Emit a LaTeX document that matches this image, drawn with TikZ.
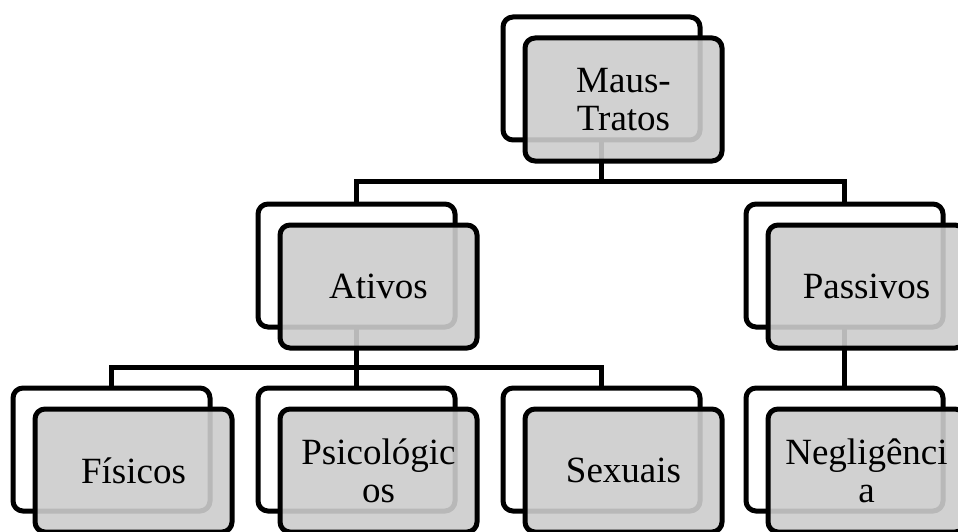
\documentclass[tikz,border=0pt]{standalone}
\usepackage{fontspec}
\setmainfont{Liberation Serif}
\pgfdeclarelayer{bg}
\pgfsetlayers{bg,main}
\begin{document}
\begin{tikzpicture}[x=1pt,y=-1pt,
  back/.style={draw=black, fill=white, line width=5pt, rounded corners=10pt,
    minimum width=197pt, minimum height=123pt, anchor=north west,
    inner sep=0pt, outer sep=0pt},
  front/.style={draw=black, fill=black!20, fill opacity=0.9, draw opacity=1,
    text opacity=1, line width=5pt, rounded corners=10pt,
    minimum width=197pt, minimum height=123pt, anchor=north west,
    inner sep=0pt, outer sep=0pt, align=center,
    font=\fontsize{37}{38}\selectfont},
  conn/.style={line width=5pt}
]
\useasboundingbox (0,0) rectangle (958,532);
\clip (0,0) rectangle (958,532);
% back frames
\node[back] (mtB) at (503,17) {};
\node[back] (atB) at (258,204) {};
\node[back] (paB) at (746,204) {};
\node[back] (fiB) at (13,388) {};
\node[back] (psB) at (258,388) {};
\node[back] (sxB) at (503,388) {};
\node[back] (neB) at (746,388) {};
% front boxes
\node[front] (mtF) at (525,38) {Maus-\\Tratos};
\node[front] (atF) at (280,225) {Ativos};
\node[front] (paF) at (768,225) {Passivos};
\node[front] (fiF) at (35,409) {Físicos};
\node[front] (psF) at (280,409) {Psicológic\\os};
\node[front] (sxF) at (525,409) {Sexuais};
\node[front] (neF) at (768,409) {Negligênci\\a};
% connectors
\begin{pgfonlayer}{bg}
\coordinate (busA) at (0,181);
\coordinate (busB) at (0,367);
\draw[conn] (mtB.south) -- (mtB.south |- busA) -| (atB.north);
\draw[conn] (mtB.south |- busA) -| (paB.north);
\draw[conn] (atB.south) -- (atB.south |- busB) -| (fiB.north);
\draw[conn] (atB.south) -- (psB.north);
\draw[conn] (atB.south |- busB) -| (sxB.north);
\draw[conn] (paB.south) -- (neB.north);
\end{pgfonlayer}
\end{tikzpicture}
\end{document}
